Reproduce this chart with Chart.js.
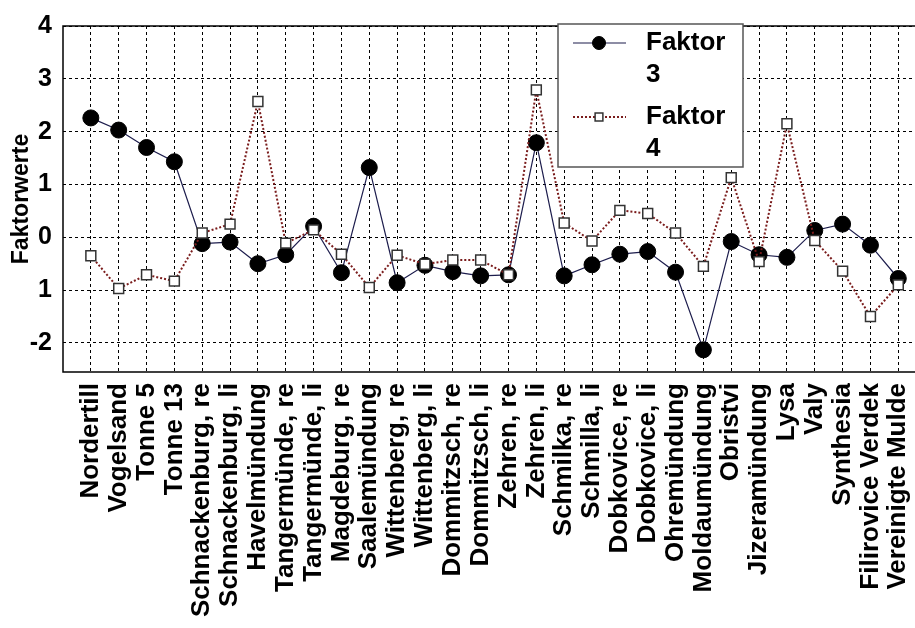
<!DOCTYPE html>
<html>
<head>
<meta charset="utf-8">
<script src="https://cdn.jsdelivr.net/npm/chart.js@4/dist/chart.umd.min.js"></script>
<style>
  html, body { margin: 0; padding: 0; background: #fff; }
  #wrap { width: 915px; height: 628px; }
</style>
</head>
<body>
<div id="wrap"><canvas id="c" width="915" height="628"></canvas></div>
<script>
// Messstellen (x-Achse)
const stationen = [
  "Nordertill", "Vogelsand", "Tonne 5", "Tonne 13", "Schnackenburg, re",
  "Schnackenburg, li", "Havelmündung", "Tangermünde, re", "Tangermünde, li",
  "Magdeburg, re", "Saalemündung", "Wittenberg, re", "Wittenberg, li",
  "Dommitzsch, re", "Dommitzsch, li", "Zehren, re", "Zehren, li",
  "Schmilka, re", "Schmilla, li", "Dobkovice, re", "Dobkovice, li",
  "Ohremündung", "Moldaumündung", "Obristvi", "Jizeramündung", "Lysa",
  "Valy", "Synthesia", "Filirovice Verdek", "Vereinigte Mulde"
];

const faktor3 = [
  2.26, 2.03, 1.70, 1.43, -0.12, -0.09, -0.50, -0.33, 0.21, -0.67,
  1.32, -0.86, -0.53, -0.65, -0.73, -0.71, 1.79, -0.73, -0.52, -0.32,
  -0.27, -0.66, -2.13, -0.08, -0.33, -0.38, 0.13, 0.25, -0.15, -0.78
];

const faktor4 = [
  -0.35, -0.97, -0.71, -0.83, 0.08, 0.25, 2.57, -0.11, 0.14, -0.32,
  -0.95, -0.34, -0.51, -0.43, -0.43, -0.71, 2.79, 0.27, -0.07, 0.51,
  0.45, 0.08, -0.55, 1.13, -0.46, 2.15, -0.06, -0.64, -1.50, -0.90
];

// y-Ticks so wie im Original beschriftet
const yTicks = [-2, -1, 0, 1, 2, 3, 4];
const yTickLabels = ["-2", "1", "0", "1", "2", "3", "4"];

const FONT = '"Liberation Sans", Arial, Helvetica, sans-serif';

// Rahmen (links, unten, oben) durchgezogen
const frame = {
  id: "frame",
  beforeDatasetsDraw(chart) {
    const { ctx, chartArea: a } = chart;
    ctx.save();
    ctx.strokeStyle = "#000";
    ctx.lineWidth = 1.5;
    ctx.setLineDash([]);
    ctx.beginPath();
    ctx.moveTo(a.right, a.top);
    ctx.lineTo(a.left, a.top);
    ctx.lineTo(a.left, a.bottom);
    ctx.lineTo(a.right, a.bottom);
    ctx.stroke();
    ctx.restore();
  }
};

// Legende mit zweizeiligen Einträgen
const legendBox = {
  id: "legendBox",
  afterDraw(chart, args, opts) {
    const ctx = chart.ctx;
    const { x, y, w, h } = opts;
    ctx.save();
    ctx.fillStyle = "#fff";
    ctx.fillRect(x, y, w, h);
    ctx.strokeStyle = "#555";
    ctx.lineWidth = 1.5;
    ctx.setLineDash([]);
    ctx.strokeRect(x, y, w, h);

    chart.data.datasets.forEach((ds, i) => {
      const ry = y + 19 + i * 74;
      ctx.strokeStyle = ds.borderColor;
      ctx.lineWidth = ds.borderWidth;
      ctx.setLineDash(ds.borderDash || []);
      ctx.beginPath();
      ctx.moveTo(x + 15, ry);
      ctx.lineTo(x + 68, ry);
      ctx.stroke();
      ctx.setLineDash([]);
      ctx.fillStyle = ds.pointBackgroundColor;
      ctx.strokeStyle = ds.pointBorderColor;
      ctx.lineWidth = ds.pointBorderWidth;
      Chart.helpers.drawPoint(ctx, {
        pointStyle: ds.pointStyle, radius: ds.pointRadius - 1.5, borderWidth: ds.pointBorderWidth
      }, x + 41, ry);

      ctx.fillStyle = "#000";
      ctx.font = "bold 26px " + FONT;
      ctx.textAlign = "left";
      ctx.textBaseline = "middle";
      ds.label.split(" ").forEach((t, k) => ctx.fillText(t, x + 88, ry + k * 32));
    });
    ctx.restore();
  }
};

new Chart(document.getElementById("c").getContext("2d"), {
  type: "line",
  data: {
    datasets: [
      {
        label: "Faktor 3",
        data: faktor3.map((v, i) => ({ x: i, y: v })),
        borderColor: "#1c1c4c", borderWidth: 1.2,
        pointStyle: "circle", pointRadius: 8,
        pointBackgroundColor: "#000", pointBorderColor: "#000", pointBorderWidth: 1,
        tension: 0, order: 1
      },
      {
        label: "Faktor 4",
        data: faktor4.map((v, i) => ({ x: i, y: v })),
        borderColor: "#7a1c1c", borderWidth: 2, borderDash: [2, 2],
        pointStyle: "rect", pointRadius: 7,
        pointBackgroundColor: "#fff", pointBorderColor: "#333", pointBorderWidth: 1.5,
        tension: 0, order: 0
      }
    ]
  },
  options: {
    responsive: false,
    animation: false,
    layout: { autoPadding: false, padding: { left: 0, top: 16, right: 0, bottom: 0 } },
    plugins: {
      legend: { display: false },
      tooltip: { enabled: false },
      legendBox: { x: 558, y: 24, w: 185, h: 143 }
    },
    scales: {
      x: {
        type: "linear", min: -1, max: 29.6,
        afterBuildTicks: s => { s.ticks = stationen.map((_, i) => ({ value: i })); },
        afterFit: s => { s.height = 256; s.paddingLeft = 0; s.paddingRight = 0; },
        grid: { color: "#000", lineWidth: 1, drawTicks: false },
        border: { display: false, dash: [3, 3] },
        ticks: {
          autoSkip: false, minRotation: 90, maxRotation: 90, padding: 11,
          color: "#000", font: { family: FONT, size: 26, weight: "bold" },
          callback: v => stationen[v]
        }
      },
      y: {
        min: -2.55, max: 4,
        afterBuildTicks: s => { s.ticks = yTicks.map(v => ({ value: v })); },
        afterFit: s => { s.width = 63; },
        grid: { color: "#000", lineWidth: 1, drawTicks: false },
        border: { display: false, dash: [3, 3] },
        ticks: {
          padding: 11, color: "#000",
          font: { family: FONT, size: 25, weight: "bold" },
          callback: v => yTickLabels[yTicks.indexOf(v)]
        },
        title: {
          display: true, text: "Faktorwerte", color: "#000",
          padding: { top: 8, bottom: 0 },
          font: { family: FONT, size: 23, weight: "bold" }
        }
      }
    }
  },
  plugins: [frame, legendBox]
});
</script>
</body>
</html>
